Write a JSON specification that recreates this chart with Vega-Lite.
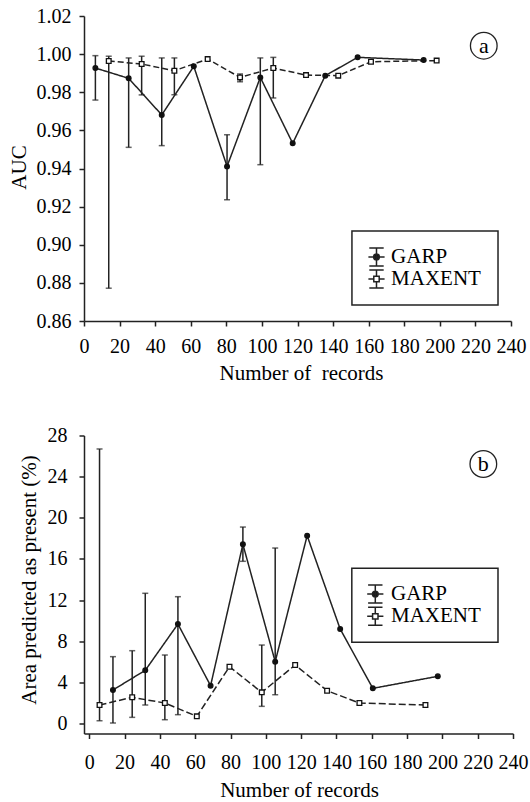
{
  "$schema": "https://vega.github.io/schema/vega-lite/v6.json",
  "background": "white",
  "padding": {"left": 8, "top": 6, "right": 5, "bottom": 2},
  "bounds": "flush",
  "spacing": 114.5,
  "resolve": {
    "scale": {"shape": "independent", "fill": "independent", "strokeDash": "independent"}
  },
  "config": {
    "font": "Liberation Serif",
    "view": {"stroke": null},
    "axis": {
      "grid": false,
      "domainColor": "#222",
      "domainWidth": 1.5,
      "tickColor": "#222",
      "tickWidth": 1.5,
      "tickSize": 5,
      "labelColor": "black",
      "titleColor": "black",
      "titleFont": "Liberation Serif",
      "titleFontSize": 21,
      "titleFontWeight": "normal"
    }
  },
  "datasets": {
    "auc": [
      {"series": "GARP", "x": 6.4, "y": 0.9927, "lo": 0.9759, "hi": 0.9992},
      {"series": "GARP", "x": 25.1, "y": 0.9873, "lo": 0.9511, "hi": 0.998},
      {"series": "GARP", "x": 43.7, "y": 0.9681, "lo": 0.952, "hi": 0.998},
      {"series": "GARP", "x": 61.7, "y": 0.9936},
      {"series": "GARP", "x": 80.4, "y": 0.9411, "lo": 0.9236, "hi": 0.9577},
      {"series": "GARP", "x": 99.1, "y": 0.9878, "lo": 0.942, "hi": 0.998},
      {"series": "GARP", "x": 117.3, "y": 0.9532},
      {"series": "GARP", "x": 135.6, "y": 0.9887},
      {"series": "GARP", "x": 153.8, "y": 0.9983},
      {"series": "GARP", "x": 190.9, "y": 0.9969},
      {"series": "MAXENT", "x": 13.9, "y": 0.9964, "lo": 0.8772, "hi": 0.9989},
      {"series": "MAXENT", "x": 32.4, "y": 0.9948, "lo": 0.9786, "hi": 0.9989},
      {"series": "MAXENT", "x": 50.8, "y": 0.9913, "lo": 0.9787, "hi": 0.998},
      {"series": "MAXENT", "x": 69.5, "y": 0.9974},
      {"series": "MAXENT", "x": 87.7, "y": 0.9878, "lo": 0.9855, "hi": 0.9896},
      {"series": "MAXENT", "x": 106.4, "y": 0.9927, "lo": 0.977, "hi": 0.9983},
      {"series": "MAXENT", "x": 124.8, "y": 0.989},
      {"series": "MAXENT", "x": 142.9, "y": 0.9887},
      {"series": "MAXENT", "x": 161.3, "y": 0.996},
      {"series": "MAXENT", "x": 198.2, "y": 0.9966}
    ],
    "area": [
      {"series": "GARP", "x": 13.4, "y": 3.26, "lo": 0.05, "hi": 6.5},
      {"series": "GARP", "x": 31.7, "y": 5.17, "lo": 1.8, "hi": 12.66},
      {"series": "GARP", "x": 50.2, "y": 9.67, "lo": 0.86, "hi": 12.33},
      {"series": "GARP", "x": 68.7, "y": 3.68},
      {"series": "GARP", "x": 87.0, "y": 17.42, "lo": 15.77, "hi": 19.1},
      {"series": "GARP", "x": 105.3, "y": 6.01, "lo": 2.8, "hi": 17.06},
      {"series": "GARP", "x": 123.4, "y": 18.26},
      {"series": "GARP", "x": 142.1, "y": 9.19},
      {"series": "GARP", "x": 160.6, "y": 3.42},
      {"series": "GARP", "x": 197.4, "y": 4.59},
      {"series": "MAXENT", "x": 5.8, "y": 1.8, "lo": 0.27, "hi": 26.69},
      {"series": "MAXENT", "x": 24.3, "y": 2.55, "lo": 0.6, "hi": 7.08},
      {"series": "MAXENT", "x": 42.8, "y": 1.99, "lo": 0.37, "hi": 6.66},
      {"series": "MAXENT", "x": 60.9, "y": 0.7},
      {"series": "MAXENT", "x": 79.4, "y": 5.52},
      {"series": "MAXENT", "x": 97.7, "y": 3.03, "lo": 1.67, "hi": 7.63},
      {"series": "MAXENT", "x": 116.6, "y": 5.69},
      {"series": "MAXENT", "x": 134.7, "y": 3.19},
      {"series": "MAXENT", "x": 153.0, "y": 1.99},
      {"series": "MAXENT", "x": 190.4, "y": 1.8}
    ]
  },
  "vconcat": [
    {
      "width": 427,
      "height": 305,
      "data": {"name": "auc"},
      "layer": [
        {
          "transform": [{"filter": "isValid(datum.lo)"}],
          "mark": {"type": "rule", "color": "#222", "strokeWidth": 1.5},
          "encoding": {
            "x": {"field": "x", "type": "quantitative", "title": "Number of\u00a0 records", "scale": {"domain": [0, 240], "nice": false},
              "axis": {"values": [0, 20, 40, 60, 80, 100, 120, 140, 160, 180, 200, 220, 240], "labelOverlap": false, "labelFlush": false, "labelFont": "Liberation Serif, serif", "labelFontSize": 20, "labelPadding": 10, "titleX": 217, "titleY": 52, "titleBaseline": "middle"}},
            "y": {"field": "lo", "type": "quantitative", "title": "AUC", "scale": {"domain": [0.86, 1.02], "nice": false, "zero": false},
              "axis": {"values": [0.86, 0.88, 0.9, 0.92, 0.94, 0.96, 0.98, 1.0, 1.02], "format": ".2f", "labelOverlap": false, "labelFlush": false, "labelFont": "Liberation Serif, serif", "labelFontSize": 20, "labelPadding": 8, "titleX": -65, "titleY": 151, "titleBaseline": "middle"}},
            "y2": {"field": "hi"}
          }
        },
        {
          "transform": [{"filter": "isValid(datum.lo)"}, {"fold": ["lo", "hi"], "as": ["end", "v"]}],
          "mark": {"type": "tick", "orient": "horizontal", "color": "#222", "size": 6, "thickness": 1.5},
          "encoding": {
            "x": {"field": "x", "type": "quantitative", "title": "Number of\u00a0 records",
              "axis": {"values": [0, 20, 40, 60, 80, 100, 120, 140, 160, 180, 200, 220, 240], "labelOverlap": false, "labelFlush": false, "labelFont": "Liberation Serif, serif", "labelFontSize": 20, "labelPadding": 10, "titleX": 217, "titleY": 52, "titleBaseline": "middle"}},
            "y": {"field": "v", "type": "quantitative", "title": "AUC",
              "axis": {"values": [0.86, 0.88, 0.9, 0.92, 0.94, 0.96, 0.98, 1.0, 1.02], "format": ".2f", "labelOverlap": false, "labelFlush": false, "labelFont": "Liberation Serif, serif", "labelFontSize": 20, "labelPadding": 8, "titleX": -65, "titleY": 151, "titleBaseline": "middle"}}
          }
        },
        {
          "mark": {"type": "line", "color": "#222", "strokeWidth": 1.5},
          "encoding": {
            "x": {"field": "x", "type": "quantitative", "title": "Number of\u00a0 records",
              "axis": {"values": [0, 20, 40, 60, 80, 100, 120, 140, 160, 180, 200, 220, 240], "labelOverlap": false, "labelFlush": false, "labelFont": "Liberation Serif, serif", "labelFontSize": 20, "labelPadding": 10, "titleX": 217, "titleY": 52, "titleBaseline": "middle"}},
            "y": {"field": "y", "type": "quantitative", "title": "AUC",
              "axis": {"values": [0.86, 0.88, 0.9, 0.92, 0.94, 0.96, 0.98, 1.0, 1.02], "format": ".2f", "labelOverlap": false, "labelFlush": false, "labelFont": "Liberation Serif, serif", "labelFontSize": 20, "labelPadding": 8, "titleX": -65, "titleY": 151, "titleBaseline": "middle"}},
            "strokeDash": {"field": "series", "type": "nominal", "scale": {"domain": ["GARP", "MAXENT"], "range": [[1, 0], [6, 3]]}, "legend": null}
          }
        },
        {
          "mark": {"type": "point", "filled": true, "stroke": "#111", "strokeWidth": 1.3, "size": 22, "opacity": 1},
          "encoding": {
            "x": {"field": "x", "type": "quantitative", "title": "Number of\u00a0 records",
              "axis": {"values": [0, 20, 40, 60, 80, 100, 120, 140, 160, 180, 200, 220, 240], "labelOverlap": false, "labelFlush": false, "labelFont": "Liberation Serif, serif", "labelFontSize": 20, "labelPadding": 10, "titleX": 217, "titleY": 52, "titleBaseline": "middle"}},
            "y": {"field": "y", "type": "quantitative", "title": "AUC",
              "axis": {"values": [0.86, 0.88, 0.9, 0.92, 0.94, 0.96, 0.98, 1.0, 1.02], "format": ".2f", "labelOverlap": false, "labelFlush": false, "labelFont": "Liberation Serif, serif", "labelFontSize": 20, "labelPadding": 8, "titleX": -65, "titleY": 151, "titleBaseline": "middle"}},
            "shape": {"field": "series", "type": "nominal", "scale": {"domain": ["GARP", "MAXENT"], "range": ["circle", "square"]}, "legend": null},
            "fill": {"field": "series", "type": "nominal", "scale": {"domain": ["GARP", "MAXENT"], "range": ["#111", "white"]}, "legend": null}
          }
        },
        {
          "data": {"values": [{"label": "a"}]},
          "mark": {"type": "point", "shape": "circle", "filled": false, "stroke": "#222", "strokeWidth": 1.3, "size": 711, "opacity": 1},
          "encoding": {
            "x": {"datum": 224.7, "type": "quantitative", "title": "Number of\u00a0 records",
              "axis": {"values": [0, 20, 40, 60, 80, 100, 120, 140, 160, 180, 200, 220, 240], "labelOverlap": false, "labelFlush": false, "labelFont": "Liberation Serif, serif", "labelFontSize": 20, "labelPadding": 10, "titleX": 217, "titleY": 52, "titleBaseline": "middle"}},
            "y": {"datum": 1.0044, "type": "quantitative", "title": "AUC",
              "axis": {"values": [0.86, 0.88, 0.9, 0.92, 0.94, 0.96, 0.98, 1.0, 1.02], "format": ".2f", "labelOverlap": false, "labelFlush": false, "labelFont": "Liberation Serif, serif", "labelFontSize": 20, "labelPadding": 8, "titleX": -65, "titleY": 151, "titleBaseline": "middle"}}
          }
        },
        {
          "data": {"values": [{"label": "a"}]},
          "mark": {"type": "text", "fontSize": 22, "font": "Liberation Serif", "color": "black", "baseline": "middle", "align": "center"},
          "encoding": {
            "x": {"datum": 224.7, "type": "quantitative", "title": "Number of\u00a0 records",
              "axis": {"values": [0, 20, 40, 60, 80, 100, 120, 140, 160, 180, 200, 220, 240], "labelOverlap": false, "labelFlush": false, "labelFont": "Liberation Serif, serif", "labelFontSize": 20, "labelPadding": 10, "titleX": 217, "titleY": 52, "titleBaseline": "middle"}},
            "y": {"datum": 1.0044, "type": "quantitative", "title": "AUC",
              "axis": {"values": [0.86, 0.88, 0.9, 0.92, 0.94, 0.96, 0.98, 1.0, 1.02], "format": ".2f", "labelOverlap": false, "labelFlush": false, "labelFont": "Liberation Serif, serif", "labelFontSize": 20, "labelPadding": 8, "titleX": -65, "titleY": 151, "titleBaseline": "middle"}},
            "text": {"field": "label"}
          }
        },
        {
          "data": {"values": [{"item": "legend"}]},
          "mark": {"type": "rect", "fill": "white", "stroke": "#222", "strokeWidth": 1.5},
          "encoding": {
            "x": {"datum": 150.6, "type": "quantitative", "title": "Number of\u00a0 records",
              "axis": {"values": [0, 20, 40, 60, 80, 100, 120, 140, 160, 180, 200, 220, 240], "labelOverlap": false, "labelFlush": false, "labelFont": "Liberation Serif, serif", "labelFontSize": 20, "labelPadding": 10, "titleX": 217, "titleY": 52, "titleBaseline": "middle"}},
            "x2": {"datum": 232.7},
            "y": {"datum": 0.9072, "type": "quantitative", "title": "AUC",
              "axis": {"values": [0.86, 0.88, 0.9, 0.92, 0.94, 0.96, 0.98, 1.0, 1.02], "format": ".2f", "labelOverlap": false, "labelFlush": false, "labelFont": "Liberation Serif, serif", "labelFontSize": 20, "labelPadding": 8, "titleX": -65, "titleY": 151, "titleBaseline": "middle"}},
            "y2": {"datum": 0.8684}
          }
        },
        {
          "data": {"values": [{"series": "GARP"}]},
          "mark": {"type": "point", "shape": "M-0.8,-1H0.8M0,-1V1M-0.8,1H0.8M-0.9,0H0.9M0.32,0A0.32,0.32,0,1,1,-0.32,0A0.32,0.32,0,1,1,0.32,0Z", "filled": true, "fill": "#111", "stroke": "#222", "strokeWidth": 1.5, "size": 324, "opacity": 1},
          "encoding": {
            "x": {"datum": 164.4, "type": "quantitative", "title": "Number of\u00a0 records",
              "axis": {"values": [0, 20, 40, 60, 80, 100, 120, 140, 160, 180, 200, 220, 240], "labelOverlap": false, "labelFlush": false, "labelFont": "Liberation Serif, serif", "labelFontSize": 20, "labelPadding": 10, "titleX": 217, "titleY": 52, "titleBaseline": "middle"}},
            "y": {"datum": 0.8936, "type": "quantitative", "title": "AUC",
              "axis": {"values": [0.86, 0.88, 0.9, 0.92, 0.94, 0.96, 0.98, 1.0, 1.02], "format": ".2f", "labelOverlap": false, "labelFlush": false, "labelFont": "Liberation Serif, serif", "labelFontSize": 20, "labelPadding": 8, "titleX": -65, "titleY": 151, "titleBaseline": "middle"}}
          }
        },
        {
          "data": {"values": [{"series": "MAXENT"}]},
          "mark": {"type": "point", "shape": "M-0.8,-1H0.8M0,-1V-0.3M0,0.3V1M-0.8,1H0.8M-0.9,0H-0.3M0.3,0H0.9M-0.3,-0.3H0.3V0.3H-0.3Z", "filled": true, "fill": "white", "stroke": "#222", "strokeWidth": 1.5, "size": 324, "opacity": 1},
          "encoding": {
            "x": {"datum": 164.4, "type": "quantitative", "title": "Number of\u00a0 records",
              "axis": {"values": [0, 20, 40, 60, 80, 100, 120, 140, 160, 180, 200, 220, 240], "labelOverlap": false, "labelFlush": false, "labelFont": "Liberation Serif, serif", "labelFontSize": 20, "labelPadding": 10, "titleX": 217, "titleY": 52, "titleBaseline": "middle"}},
            "y": {"datum": 0.882, "type": "quantitative", "title": "AUC",
              "axis": {"values": [0.86, 0.88, 0.9, 0.92, 0.94, 0.96, 0.98, 1.0, 1.02], "format": ".2f", "labelOverlap": false, "labelFlush": false, "labelFont": "Liberation Serif, serif", "labelFontSize": 20, "labelPadding": 8, "titleX": -65, "titleY": 151, "titleBaseline": "middle"}}
          }
        },
        {
          "data": {"values": [{"series": "GARP"}]},
          "mark": {"type": "text", "fontSize": 21, "font": "Liberation Serif", "color": "black", "baseline": "middle", "align": "left"},
          "encoding": {
            "x": {"datum": 172.6, "type": "quantitative", "title": "Number of\u00a0 records",
              "axis": {"values": [0, 20, 40, 60, 80, 100, 120, 140, 160, 180, 200, 220, 240], "labelOverlap": false, "labelFlush": false, "labelFont": "Liberation Serif, serif", "labelFontSize": 20, "labelPadding": 10, "titleX": 217, "titleY": 52, "titleBaseline": "middle"}},
            "y": {"datum": 0.8936, "type": "quantitative", "title": "AUC",
              "axis": {"values": [0.86, 0.88, 0.9, 0.92, 0.94, 0.96, 0.98, 1.0, 1.02], "format": ".2f", "labelOverlap": false, "labelFlush": false, "labelFont": "Liberation Serif, serif", "labelFontSize": 20, "labelPadding": 8, "titleX": -65, "titleY": 151, "titleBaseline": "middle"}},
            "text": {"field": "series"}
          }
        },
        {
          "data": {"values": [{"series": "MAXENT"}]},
          "mark": {"type": "text", "fontSize": 21, "font": "Liberation Serif", "color": "black", "baseline": "middle", "align": "left"},
          "encoding": {
            "x": {"datum": 172.6, "type": "quantitative", "title": "Number of\u00a0 records",
              "axis": {"values": [0, 20, 40, 60, 80, 100, 120, 140, 160, 180, 200, 220, 240], "labelOverlap": false, "labelFlush": false, "labelFont": "Liberation Serif, serif", "labelFontSize": 20, "labelPadding": 10, "titleX": 217, "titleY": 52, "titleBaseline": "middle"}},
            "y": {"datum": 0.882, "type": "quantitative", "title": "AUC",
              "axis": {"values": [0.86, 0.88, 0.9, 0.92, 0.94, 0.96, 0.98, 1.0, 1.02], "format": ".2f", "labelOverlap": false, "labelFlush": false, "labelFont": "Liberation Serif, serif", "labelFontSize": 20, "labelPadding": 8, "titleX": -65, "titleY": 151, "titleBaseline": "middle"}},
            "text": {"field": "series"}
          }
        }
      ]
    },
    {
      "width": 429,
      "height": 298,
      "data": {"name": "area"},
      "layer": [
        {
          "transform": [{"filter": "isValid(datum.lo)"}],
          "mark": {"type": "rule", "color": "#222", "strokeWidth": 1.5},
          "encoding": {
            "x": {"field": "x", "type": "quantitative", "title": "Number of records", "scale": {"domain": [-3, 240], "nice": false, "zero": false},
              "axis": {"values": [0, 20, 40, 60, 80, 100, 120, 140, 160, 180, 200, 220, 240], "labelOverlap": false, "labelFlush": false, "labelFont": "Liberation Serif, serif", "labelFontSize": 20, "labelPadding": 13.5, "titleX": 215, "titleY": 57, "titleBaseline": "middle"}},
            "y": {"field": "lo", "type": "quantitative", "title": "Area predicted as present (%)", "scale": {"domain": [-0.97, 28], "nice": false, "zero": false},
              "axis": {"values": [0, 4, 8, 12, 16, 20, 24, 28], "labelOverlap": false, "labelFlush": false, "labelFont": "Liberation Serif, serif", "labelFontSize": 20, "labelPadding": 12, "titleX": -55, "titleY": 144, "titleBaseline": "middle"}},
            "y2": {"field": "hi"}
          }
        },
        {
          "transform": [{"filter": "isValid(datum.lo)"}, {"fold": ["lo", "hi"], "as": ["end", "v"]}],
          "mark": {"type": "tick", "orient": "horizontal", "color": "#222", "size": 6, "thickness": 1.5},
          "encoding": {
            "x": {"field": "x", "type": "quantitative", "title": "Number of records",
              "axis": {"values": [0, 20, 40, 60, 80, 100, 120, 140, 160, 180, 200, 220, 240], "labelOverlap": false, "labelFlush": false, "labelFont": "Liberation Serif, serif", "labelFontSize": 20, "labelPadding": 13.5, "titleX": 215, "titleY": 57, "titleBaseline": "middle"}},
            "y": {"field": "v", "type": "quantitative", "title": "Area predicted as present (%)",
              "axis": {"values": [0, 4, 8, 12, 16, 20, 24, 28], "labelOverlap": false, "labelFlush": false, "labelFont": "Liberation Serif, serif", "labelFontSize": 20, "labelPadding": 12, "titleX": -55, "titleY": 144, "titleBaseline": "middle"}}
          }
        },
        {
          "mark": {"type": "line", "color": "#222", "strokeWidth": 1.5},
          "encoding": {
            "x": {"field": "x", "type": "quantitative", "title": "Number of records",
              "axis": {"values": [0, 20, 40, 60, 80, 100, 120, 140, 160, 180, 200, 220, 240], "labelOverlap": false, "labelFlush": false, "labelFont": "Liberation Serif, serif", "labelFontSize": 20, "labelPadding": 13.5, "titleX": 215, "titleY": 57, "titleBaseline": "middle"}},
            "y": {"field": "y", "type": "quantitative", "title": "Area predicted as present (%)",
              "axis": {"values": [0, 4, 8, 12, 16, 20, 24, 28], "labelOverlap": false, "labelFlush": false, "labelFont": "Liberation Serif, serif", "labelFontSize": 20, "labelPadding": 12, "titleX": -55, "titleY": 144, "titleBaseline": "middle"}},
            "strokeDash": {"field": "series", "type": "nominal", "scale": {"domain": ["GARP", "MAXENT"], "range": [[1, 0], [7, 3]]}, "legend": null}
          }
        },
        {
          "mark": {"type": "point", "filled": true, "stroke": "#111", "strokeWidth": 1.3, "size": 22, "opacity": 1},
          "encoding": {
            "x": {"field": "x", "type": "quantitative", "title": "Number of records",
              "axis": {"values": [0, 20, 40, 60, 80, 100, 120, 140, 160, 180, 200, 220, 240], "labelOverlap": false, "labelFlush": false, "labelFont": "Liberation Serif, serif", "labelFontSize": 20, "labelPadding": 13.5, "titleX": 215, "titleY": 57, "titleBaseline": "middle"}},
            "y": {"field": "y", "type": "quantitative", "title": "Area predicted as present (%)",
              "axis": {"values": [0, 4, 8, 12, 16, 20, 24, 28], "labelOverlap": false, "labelFlush": false, "labelFont": "Liberation Serif, serif", "labelFontSize": 20, "labelPadding": 12, "titleX": -55, "titleY": 144, "titleBaseline": "middle"}},
            "shape": {"field": "series", "type": "nominal", "scale": {"domain": ["GARP", "MAXENT"], "range": ["circle", "square"]}, "legend": null},
            "fill": {"field": "series", "type": "nominal", "scale": {"domain": ["GARP", "MAXENT"], "range": ["#111", "white"]}, "legend": null}
          }
        },
        {
          "data": {"values": [{"label": "b"}]},
          "mark": {"type": "point", "shape": "circle", "filled": false, "stroke": "#222", "strokeWidth": 1.3, "size": 711, "opacity": 1},
          "encoding": {
            "x": {"datum": 223.2, "type": "quantitative", "title": "Number of records",
              "axis": {"values": [0, 20, 40, 60, 80, 100, 120, 140, 160, 180, 200, 220, 240], "labelOverlap": false, "labelFlush": false, "labelFont": "Liberation Serif, serif", "labelFontSize": 20, "labelPadding": 13.5, "titleX": 215, "titleY": 57, "titleBaseline": "middle"}},
            "y": {"datum": 25.23, "type": "quantitative", "title": "Area predicted as present (%)",
              "axis": {"values": [0, 4, 8, 12, 16, 20, 24, 28], "labelOverlap": false, "labelFlush": false, "labelFont": "Liberation Serif, serif", "labelFontSize": 20, "labelPadding": 12, "titleX": -55, "titleY": 144, "titleBaseline": "middle"}}
          }
        },
        {
          "data": {"values": [{"label": "b"}]},
          "mark": {"type": "text", "fontSize": 22, "font": "Liberation Serif", "color": "black", "baseline": "middle", "align": "center"},
          "encoding": {
            "x": {"datum": 223.2, "type": "quantitative", "title": "Number of records",
              "axis": {"values": [0, 20, 40, 60, 80, 100, 120, 140, 160, 180, 200, 220, 240], "labelOverlap": false, "labelFlush": false, "labelFont": "Liberation Serif, serif", "labelFontSize": 20, "labelPadding": 13.5, "titleX": 215, "titleY": 57, "titleBaseline": "middle"}},
            "y": {"datum": 25.23, "type": "quantitative", "title": "Area predicted as present (%)",
              "axis": {"values": [0, 4, 8, 12, 16, 20, 24, 28], "labelOverlap": false, "labelFlush": false, "labelFont": "Liberation Serif, serif", "labelFontSize": 20, "labelPadding": 12, "titleX": -55, "titleY": 144, "titleBaseline": "middle"}},
            "text": {"field": "label"}
          }
        },
        {
          "data": {"values": [{"item": "legend"}]},
          "mark": {"type": "rect", "fill": "white", "stroke": "#222", "strokeWidth": 1.5},
          "encoding": {
            "x": {"datum": 148.7, "type": "quantitative", "title": "Number of records",
              "axis": {"values": [0, 20, 40, 60, 80, 100, 120, 140, 160, 180, 200, 220, 240], "labelOverlap": false, "labelFlush": false, "labelFont": "Liberation Serif, serif", "labelFontSize": 20, "labelPadding": 13.5, "titleX": 215, "titleY": 57, "titleBaseline": "middle"}},
            "x2": {"datum": 231.5},
            "y": {"datum": 15.09, "type": "quantitative", "title": "Area predicted as present (%)",
              "axis": {"values": [0, 4, 8, 12, 16, 20, 24, 28], "labelOverlap": false, "labelFlush": false, "labelFont": "Liberation Serif, serif", "labelFontSize": 20, "labelPadding": 12, "titleX": -55, "titleY": 144, "titleBaseline": "middle"}},
            "y2": {"datum": 7.89}
          }
        },
        {
          "data": {"values": [{"series": "GARP"}]},
          "mark": {"type": "point", "shape": "M-0.8,-1H0.8M0,-1V1M-0.8,1H0.8M-0.9,0H0.9M0.32,0A0.32,0.32,0,1,1,-0.32,0A0.32,0.32,0,1,1,0.32,0Z", "filled": true, "fill": "#111", "stroke": "#222", "strokeWidth": 1.5, "size": 324, "opacity": 1},
          "encoding": {
            "x": {"datum": 162.0, "type": "quantitative", "title": "Number of records",
              "axis": {"values": [0, 20, 40, 60, 80, 100, 120, 140, 160, 180, 200, 220, 240], "labelOverlap": false, "labelFlush": false, "labelFont": "Liberation Serif, serif", "labelFontSize": 20, "labelPadding": 13.5, "titleX": 215, "titleY": 57, "titleBaseline": "middle"}},
            "y": {"datum": 12.59, "type": "quantitative", "title": "Area predicted as present (%)",
              "axis": {"values": [0, 4, 8, 12, 16, 20, 24, 28], "labelOverlap": false, "labelFlush": false, "labelFont": "Liberation Serif, serif", "labelFontSize": 20, "labelPadding": 12, "titleX": -55, "titleY": 144, "titleBaseline": "middle"}}
          }
        },
        {
          "data": {"values": [{"series": "MAXENT"}]},
          "mark": {"type": "point", "shape": "M-0.8,-1H0.8M0,-1V-0.3M0,0.3V1M-0.8,1H0.8M-0.9,0H-0.3M0.3,0H0.9M-0.3,-0.3H0.3V0.3H-0.3Z", "filled": true, "fill": "white", "stroke": "#222", "strokeWidth": 1.5, "size": 324, "opacity": 1},
          "encoding": {
            "x": {"datum": 162.0, "type": "quantitative", "title": "Number of records",
              "axis": {"values": [0, 20, 40, 60, 80, 100, 120, 140, 160, 180, 200, 220, 240], "labelOverlap": false, "labelFlush": false, "labelFont": "Liberation Serif, serif", "labelFontSize": 20, "labelPadding": 13.5, "titleX": 215, "titleY": 57, "titleBaseline": "middle"}},
            "y": {"datum": 10.42, "type": "quantitative", "title": "Area predicted as present (%)",
              "axis": {"values": [0, 4, 8, 12, 16, 20, 24, 28], "labelOverlap": false, "labelFlush": false, "labelFont": "Liberation Serif, serif", "labelFontSize": 20, "labelPadding": 12, "titleX": -55, "titleY": 144, "titleBaseline": "middle"}}
          }
        },
        {
          "data": {"values": [{"series": "GARP"}]},
          "mark": {"type": "text", "fontSize": 21, "font": "Liberation Serif", "color": "black", "baseline": "middle", "align": "left"},
          "encoding": {
            "x": {"datum": 170.9, "type": "quantitative", "title": "Number of records",
              "axis": {"values": [0, 20, 40, 60, 80, 100, 120, 140, 160, 180, 200, 220, 240], "labelOverlap": false, "labelFlush": false, "labelFont": "Liberation Serif, serif", "labelFontSize": 20, "labelPadding": 13.5, "titleX": 215, "titleY": 57, "titleBaseline": "middle"}},
            "y": {"datum": 12.59, "type": "quantitative", "title": "Area predicted as present (%)",
              "axis": {"values": [0, 4, 8, 12, 16, 20, 24, 28], "labelOverlap": false, "labelFlush": false, "labelFont": "Liberation Serif, serif", "labelFontSize": 20, "labelPadding": 12, "titleX": -55, "titleY": 144, "titleBaseline": "middle"}},
            "text": {"field": "series"}
          }
        },
        {
          "data": {"values": [{"series": "MAXENT"}]},
          "mark": {"type": "text", "fontSize": 21, "font": "Liberation Serif", "color": "black", "baseline": "middle", "align": "left"},
          "encoding": {
            "x": {"datum": 170.9, "type": "quantitative", "title": "Number of records",
              "axis": {"values": [0, 20, 40, 60, 80, 100, 120, 140, 160, 180, 200, 220, 240], "labelOverlap": false, "labelFlush": false, "labelFont": "Liberation Serif, serif", "labelFontSize": 20, "labelPadding": 13.5, "titleX": 215, "titleY": 57, "titleBaseline": "middle"}},
            "y": {"datum": 10.42, "type": "quantitative", "title": "Area predicted as present (%)",
              "axis": {"values": [0, 4, 8, 12, 16, 20, 24, 28], "labelOverlap": false, "labelFlush": false, "labelFont": "Liberation Serif, serif", "labelFontSize": 20, "labelPadding": 12, "titleX": -55, "titleY": 144, "titleBaseline": "middle"}},
            "text": {"field": "series"}
          }
        }
      ]
    }
  ]
}
